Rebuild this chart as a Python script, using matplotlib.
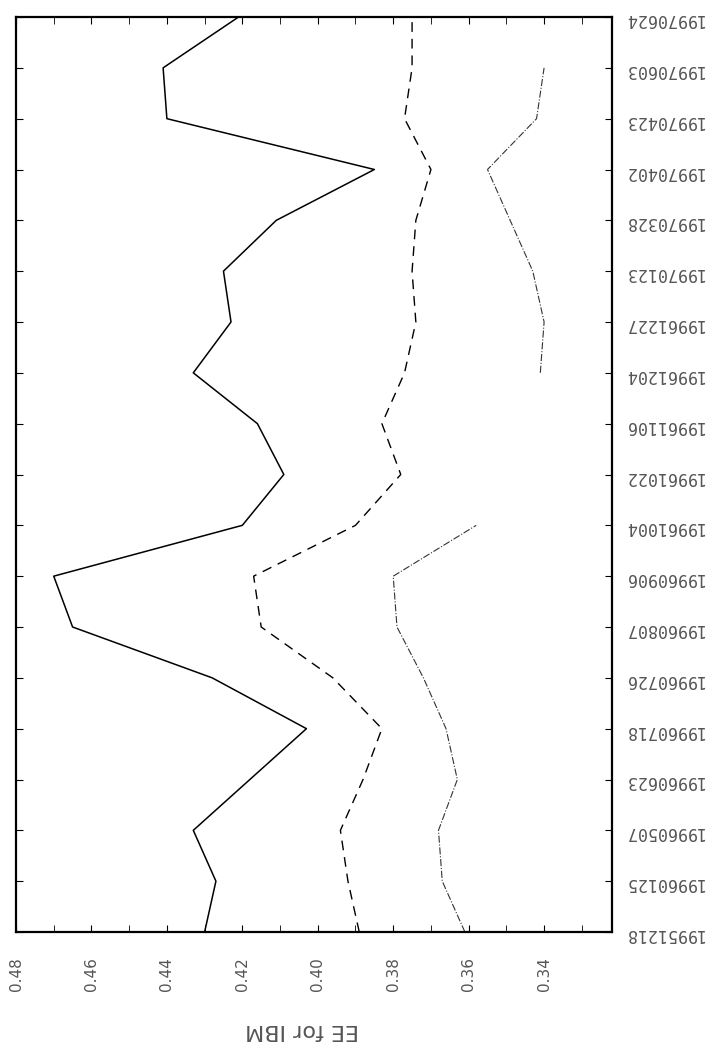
import numpy as np
import matplotlib; matplotlib.use('Agg')
import matplotlib.pyplot as plt
from matplotlib.ticker import MultipleLocator

# observation dates, oldest first (the chart is printed turned on its side)
dates = ['19951218','19960125','19960507','19960623','19960718','19960726','19960807',
         '19960906','19961004','19961022','19961106','19961204','19961227','19970123',
         '19970328','19970402','19970423','19970603','19970624']
solid_vals = [0.430,0.427,0.433,0.418,0.403,0.428,0.465,0.470,0.420,0.409,
              0.416,0.433,0.423,0.425,0.411,0.385,0.440,0.441,0.421]
dash_vals = [0.389,0.392,0.394,0.388,0.383,0.396,0.415,0.417,0.390,0.378,
             0.383,0.377,0.374,0.375,0.374,0.370,0.377,0.375,0.375]
third_vals = [0.361,0.367,0.368,0.363,0.366,0.372,0.379,0.380,0.358,np.nan,
              np.nan,0.341,0.340,0.343,0.349,0.355,0.342,0.340,np.nan]
val_ticks = [0.48,0.46,0.44,0.42,0.40,0.38,0.36,0.34]
axis_title = 'EE for IBM'

fig = plt.figure(figsize=(7.25,10.47), dpi=100)
ax = fig.add_axes([16/725, 1-932/1047, 596/725, 915/1047])
pos = np.arange(len(dates))

ax.plot(solid_vals, pos, color='black', lw=1.1, ls='-')
ax.plot(dash_vals, pos, color='black', lw=1.0, ls=(0,(7,5)))
ax.plot(third_vals, pos, color='#333333', lw=0.8, ls='-.')

ax.set_xlim(0.48, 0.322)
ax.set_ylim(0, len(dates)-1)

ax.set_xticks(val_ticks)
ax.set_xticklabels(['%.2f' % v for v in val_ticks], rotation=90, fontsize=11, color='#555555')
ax.xaxis.set_minor_locator(MultipleLocator(0.01))
ax.set_yticks(pos)
ax.set_yticklabels(dates, rotation=180, fontsize=12, family='DejaVu Sans Mono', color='#555555')
ax.yaxis.tick_right()
ax.tick_params(axis='x', which='both', direction='in', top=True, bottom=True, length=5, pad=18)
ax.tick_params(axis='y', which='both', direction='in', left=True, right=True, length=5, pad=9)
for s in ax.spines.values():
    s.set_linewidth(1.6)

fig.text(302/725, 1-1030/1047, axis_title, rotation=180, ha='center', va='center',
         fontsize=16, color='#555555')

plt.savefig('out.png', dpi=100)
